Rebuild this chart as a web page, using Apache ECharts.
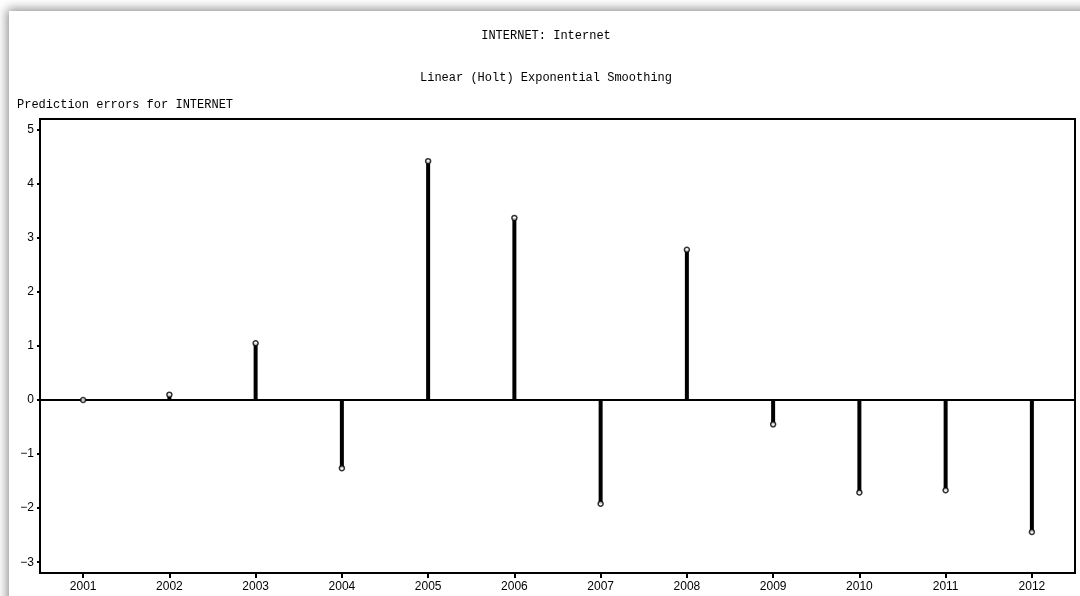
<!DOCTYPE html>
<html>
<head>
<meta charset="utf-8">
<script src="https://cdn.jsdelivr.net/npm/echarts@6/dist/echarts.min.js"></script>
<style>
html,body{margin:0;padding:0;background:#fff;width:1080px;height:596px;overflow:hidden;}
#panel{position:absolute;left:9px;top:11px;width:1200px;height:700px;background:#fff;box-shadow:0 0 10px 2px rgba(0,0,0,0.45);}
#chart{position:absolute;left:0;top:0;width:1080px;height:596px;}
</style>
</head>
<body>
<div id="panel"></div>
<div id="chart"></div>
<script>
const years = ['2001','2002','2003','2004','2005','2006','2007','2008','2009','2010','2011','2012'];
const errors = [0, 0.1, 1.05, -1.26, 4.42, 3.37, -1.92, 2.78, -0.45, -1.71, -1.67, -2.44];
const yTicks = [-3, -2, -1, 0, 1, 2, 3, 4, 5];
const titleText = 'INTERNET: Internet';
const subtitleText = 'Linear (Holt) Exponential Smoothing';
const yTitleText = 'Prediction errors for INTERNET';

const chart = echarts.init(document.getElementById('chart'), null, {renderer: 'canvas'});
const monoFont = {fontFamily: 'Liberation Mono', fontSize: 12, color: '#000', fontWeight: 'normal'};
chart.setOption({
  backgroundColor: 'transparent',
  animation: false,
  title: [
    {text: titleText, left: 546, top: 30, textAlign: 'center', textStyle: monoFont, padding: 0},
    {text: subtitleText, left: 546, top: 72, textAlign: 'center', textStyle: monoFont, padding: 0},
    {text: yTitleText, left: 17, top: 99, textStyle: monoFont, padding: 0}
  ],
  grid: {left: 40, right: 5, top: 119, bottom: 23, show: true, borderColor: '#000', borderWidth: 2, backgroundColor: 'transparent'},
  xAxis: {
    type: 'category',
    data: years,
    boundaryGap: true,
    axisLine: {show: true, onZero: false, lineStyle: {color: '#000', width: 2}},
    axisTick: {show: true, alignWithLabel: true, length: 5, lineStyle: {color: '#000', width: 2}},
    axisLabel: {color: '#000', fontFamily: 'Liberation Sans', fontSize: 12, margin: 8},
    splitLine: {show: false}
  },
  yAxis: {
    type: 'value',
    min: -3.2,
    max: 5.2,
    axisLine: {show: true, lineStyle: {color: '#000', width: 2}},
    axisTick: {show: true, length: 3, customValues: yTicks, lineStyle: {color: '#000', width: 2}},
    axisLabel: {color: '#000', fontFamily: 'Liberation Sans', fontSize: 12, margin: 6,
      customValues: yTicks,
      formatter: v => String(v).replace('-', '\u2212')},
    splitLine: {show: false}
  },
  series: [
    {
      type: 'bar',
      data: errors,
      barWidth: 4,
      itemStyle: {color: '#000'},
      silent: true,
      z: 2,
      markLine: {
        silent: true,
        symbol: 'none',
        label: {show: false},
        lineStyle: {color: '#000', width: 2, type: 'solid'},
        data: [{yAxis: 0}]
      }
    },
    {
      type: 'scatter',
      data: errors,
      symbol: 'circle',
      symbolSize: 5,
      itemStyle: {color: '#fff', borderColor: '#000', borderWidth: 1.5},
      silent: true,
      z: 5
    }
  ]
});
</script>
</body>
</html>
